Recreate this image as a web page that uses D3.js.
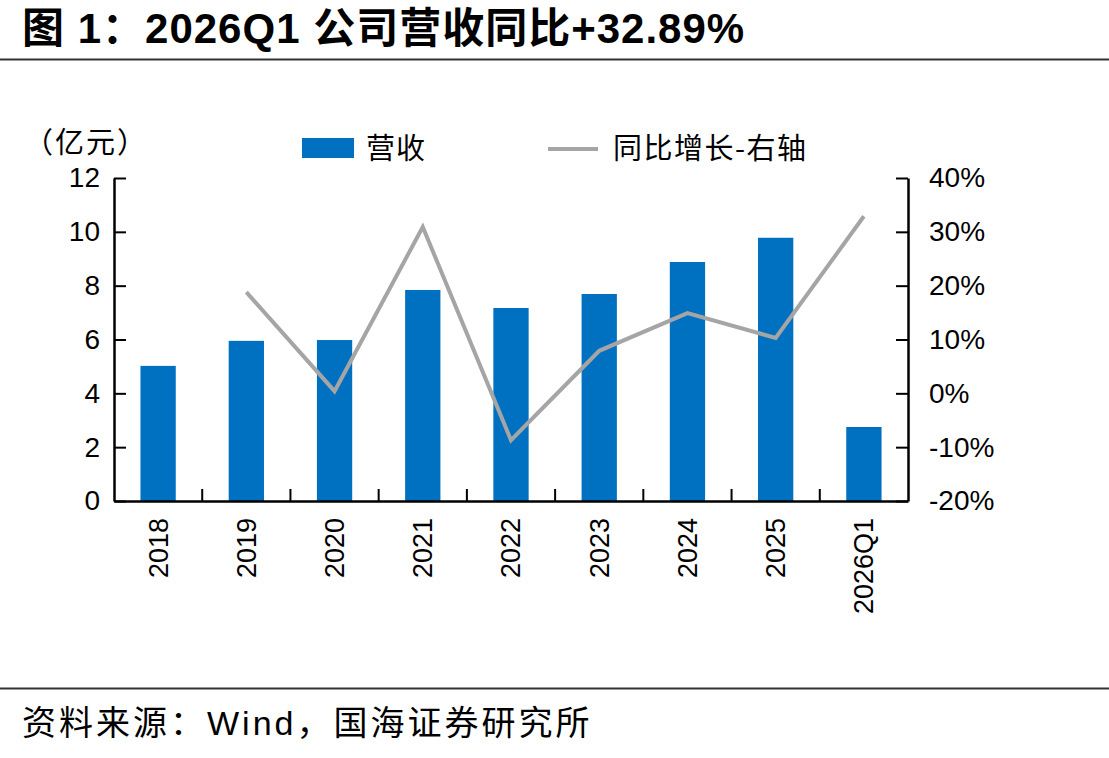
<!DOCTYPE html>
<html>
<head>
<meta charset="utf-8">
<script src="https://cdn.jsdelivr.net/npm/d3@7"></script>
<style>
  body { margin: 0; background: #fff; }
  svg { display: block; }
  text { font-family: "Liberation Sans", Arial, "Noto Sans CJK SC", sans-serif; fill: #000; }
  .cjk { font-family: "Noto Sans CJK SC", sans-serif; }
</style>
</head>
<body>
<svg width="1109" height="758"></svg>
<script>
// data
const categories = ["2018", "2019", "2020", "2021", "2022", "2023", "2024", "2025", "2026Q1"];
const revenue = [5.02, 5.95, 5.98, 7.84, 7.17, 7.69, 8.88, 9.78, 2.75];
const yoyGrowth = [null, 18.8, 0.4, 30.9, -8.7, 7.9, 14.9, 10.3, 32.89];
const leftTicks = [0, 2, 4, 6, 8, 10, 12];
const rightTicks = [-20, -10, 0, 10, 20, 30, 40];

const barColor = "#0070C0",
    lineColor = "#A5A5A5";

const svg = d3.select("svg");

// title + rules
svg.append("text")
    .attr("x", 22).attr("y", 43)
    .style("font-size", "42px")
    .style("font-weight", "bold")
    .style("letter-spacing", "1px")
    .text("图 1：2026Q1 公司营收同比+32.89%");

svg.append("line")
    .attr("x1", 0).attr("x2", 1109).attr("y1", 59.5).attr("y2", 59.5)
    .attr("stroke", "#333").attr("stroke-width", 2);

svg.append("line")
    .attr("x1", 0).attr("x2", 1109).attr("y1", 688.5).attr("y2", 688.5)
    .attr("stroke", "#333").attr("stroke-width", 2);

svg.append("text")
    .attr("x", 22).attr("y", 735)
    .style("font-size", "34px")
    .style("letter-spacing", "3px")
    .text("资料来源：Wind，国海证券研究所");

// plot area
const plot = { left: 114, right: 908, top: 178, bottom: 501 };

const x = d3.scaleBand().domain(categories).range([plot.left, plot.right]).paddingInner(0).paddingOuter(0);
const y = d3.scaleLinear().domain([0, 12]).range([plot.bottom, plot.top]);
const y2 = d3.scaleLinear().domain([-20, 40]).range([plot.bottom, plot.top]);

const barW = x.bandwidth() * 0.4;

svg.append("g").selectAll("rect")
    .data(revenue)
    .enter().append("rect")
    .attr("x", (d, i) => x(categories[i]) + (x.bandwidth() - barW) / 2)
    .attr("y", d => y(d))
    .attr("width", barW)
    .attr("height", d => plot.bottom - y(d))
    .attr("fill", barColor);

const line = d3.line()
    .defined(d => d != null)
    .x((d, i) => x(categories[i]) + x.bandwidth() / 2)
    .y(d => y2(d));

svg.append("path")
    .datum(yoyGrowth)
    .attr("d", line)
    .attr("fill", "none")
    .attr("stroke", lineColor)
    .attr("stroke-width", 4)
    .attr("stroke-linejoin", "miter");

// axes
const leftAxis = svg.append("g")
    .attr("transform", `translate(${plot.left},0)`)
    .call(d3.axisLeft(y).tickValues(leftTicks).tickSizeInner(-12).tickSizeOuter(0).tickPadding(14));

const rightAxis = svg.append("g")
    .attr("transform", `translate(${plot.right},0)`)
    .call(d3.axisRight(y2).tickValues(rightTicks).tickSizeInner(-12).tickSizeOuter(0).tickPadding(21)
        .tickFormat(d => d + "%"));

const xAxis = svg.append("g")
    .attr("transform", `translate(0,${plot.bottom})`)
    .call(d3.axisBottom(x).tickSize(0).tickPadding(0));

// category separators pointing up
svg.append("g").selectAll("line")
    .data(categories.slice(1))
    .enter().append("line")
    .attr("x1", d => x(d)).attr("x2", d => x(d))
    .attr("y1", plot.bottom).attr("y2", plot.bottom - 12)
    .attr("stroke", "#000").attr("stroke-width", 2);

[leftAxis, rightAxis, xAxis].forEach(a => {
    a.select(".domain").attr("stroke", "#000").attr("stroke-width", 2.5);
    a.selectAll(".tick line").attr("stroke", "#000").attr("stroke-width", 2);
    a.selectAll("text").style("font-size", "28px").attr("fill", "#000")
        .style("font-family", "'Liberation Sans', Arial, sans-serif");
});

xAxis.selectAll(".tick text")
    .style("font-size", "27px")
    .attr("transform", "rotate(-90)")
    .attr("text-anchor", "end")
    .attr("x", -17)
    .attr("y", 0)
    .attr("dy", "0.35em");

// unit label
svg.append("text")
    .attr("class", "cjk")
    .attr("x", 24).attr("y", 153)
    .style("font-size", "29px")
    .style("letter-spacing", "2px")
    .text("（亿元）");

// legend
svg.append("rect")
    .attr("x", 302).attr("y", 138).attr("width", 52).attr("height", 20)
    .attr("fill", barColor);
svg.append("text")
    .attr("class", "cjk")
    .attr("x", 366).attr("y", 159)
    .style("font-size", "29px")
    .style("letter-spacing", "1px")
    .text("营收");

svg.append("line")
    .attr("x1", 548).attr("x2", 598).attr("y1", 149).attr("y2", 149)
    .attr("stroke", lineColor).attr("stroke-width", 4);
svg.append("text")
    .attr("class", "cjk")
    .attr("x", 613).attr("y", 159)
    .style("font-size", "29px")
    .style("letter-spacing", "1.5px")
    .text("同比增长-右轴");
</script>
</body>
</html>
